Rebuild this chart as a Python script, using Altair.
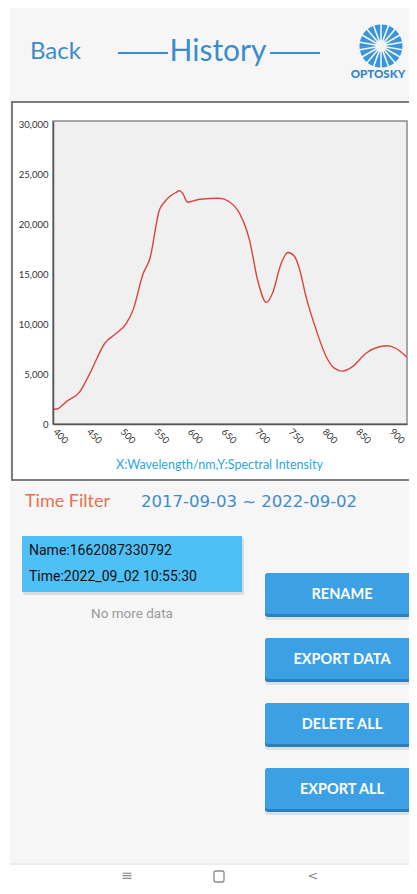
import altair as alt
import pandas as pd

# ---- data ----
wavelength = [398, 404, 418, 438, 453, 475, 492, 507, 517, 532, 542, 556, 564, 571,
              580, 586, 591, 598, 616, 645, 660, 675, 690, 702, 715, 724, 737, 747,
              757, 764, 774, 789, 804, 816, 828, 843, 863, 883, 895, 907, 924]
intensity = [1450, 1500, 2250, 3250, 5100, 8100, 9100, 10100, 11450, 15100, 16600, 21450,
             22300, 22800, 23200, 23400, 23100, 22250, 22550, 22650, 22300, 21150, 18450,
             14450, 12200, 13100, 16100, 17200, 16800, 15600, 12750, 9450, 6750, 5600,
             5300, 5750, 7100, 7750, 7850, 7600, 6700]
x_ticks = [400, 450, 500, 550, 600, 650, 700, 750, 800, 850, 900]
y_ticks = [0, 5000, 10000, 15000, 20000, 25000, 30000]
buttons = ["RENAME", "EXPORT DATA", "DELETE ALL", "EXPORT ALL"]
record_name = "Name:1662087330792"
record_time = "Time:2022_09_02 10:55:30"
date_range = "2017-09-03 ~ 2022-09-02"
petal_ids = list(range(18))

FONT = "Lato"
BLUE_TXT = "#3c8ccd"

one = pd.DataFrame({"k": [0]})


def rect(x, y, x2, y2, fill, stroke=None, sw=0.0, r=0, opacity=1.0):
    kw = dict(fill=fill, cornerRadius=r, opacity=opacity)
    if stroke:
        kw.update(stroke=stroke, strokeWidth=sw)
    return alt.Chart(one).mark_rect(**kw).encode(
        x=alt.value(x), x2=alt.value(x2), y=alt.value(y), y2=alt.value(y2))


def text(s, x, y, size, color, align="left", weight="normal", font=FONT):
    return alt.Chart(one).mark_text(
        text=s, align=align, baseline="middle", fontSize=size, color=color,
        fontWeight=weight, font=font).encode(x=alt.value(x), y=alt.value(y))


def hline(x, x2, y, color, w):
    return alt.Chart(one).mark_rule(color=color, strokeWidth=w).encode(
        x=alt.value(x), x2=alt.value(x2), y=alt.value(y))


layers = []
# page + gray app panel
layers.append(rect(-45, -113, 356, 765, "#ffffff"))
layers.append(rect(-43, -113, 356, 743, "#f6f6f6"))
layers.append(rect(-43, 742, 356, 744, "#ececec"))
# chart frame
layers.append(rect(-41, -19, 370, 359, "#ffffff", stroke="#555555", sw=1.5))
# plot background
layers.append(rect(0, 0, 354, 303, "#f0f0f0", stroke="#8c8c8c", sw=1.5))

# spectrum line with real axes
spec = pd.DataFrame({"wl": wavelength, "I": intensity})
line = alt.Chart(spec).mark_line(
    color="#d9453f", strokeWidth=1.4, interpolate="monotone", clip=True
).encode(
    x=alt.X("wl:Q",
            scale=alt.Scale(domain=[398, 924], nice=False, zero=False),
            axis=alt.Axis(values=x_ticks, labelAngle=45, labelAlign="left",
                          labelBaseline="middle", labelPadding=6, ticks=False,
                          grid=False, domainColor="#555555", domainWidth=1.5,
                          labelColor="#333333", labelFontSize=9.5, labelFont=FONT,
                          format=".0f",
                          title="X:Wavelength/nm,Y:Spectral Intensity",
                          titleColor="#29a8e0", titleFontSize=12.5,
                          titleFontWeight="normal", titleFont=FONT,
                          titleX=166, titleY=40, titleAlign="center",
                          titleBaseline="middle", zindex=1, labelFlush=False,
                          labelOverlap=False)),
    y=alt.Y("I:Q",
            scale=alt.Scale(domain=[0, 30400], nice=False),
            axis=alt.Axis(values=y_ticks, format=",.0f", ticks=False, grid=False,
                          domainColor="#555555", domainWidth=1.5,
                          labelColor="#333333", labelFontSize=9.5, labelFont=FONT,
                          labelPadding=5, title=None, zindex=1, labelFlush=False,
                          labelOverlap=False)),
)
layers.append(line)

# header
layers.append(text("Back", -23, -69, 24, BLUE_TXT))
layers.append(text("History", 165, -69, 30, BLUE_TXT, align="center"))
layers.append(hline(65, 115, -68, BLUE_TXT, 1.8))
layers.append(hline(217, 267, -68, BLUE_TXT, 1.8))
petals = pd.DataFrame({"p": petal_ids, "v": [1] * len(petal_ids)})
layers.append(
    alt.Chart(petals).mark_arc(color="#3a96dc", padAngle=0.07, radius=21.5, radius2=5.5)
    .encode(theta=alt.Theta("v:Q", stack=True), detail="p:N",
            x=alt.value(328), y=alt.value(-75)))
layers.append(text("OPTOSKY", 325, -46, 11.5, "#2f86cf", align="center", weight=900))

# time filter
layers.append(text("Time Filter", -28, 381, 18, "#e87050"))
layers.append(text(date_range, 88, 381, 16.5, BLUE_TXT, font="DejaVu Sans"))

# record card
layers.append(rect(-30, 417, 191, 474, "#d5d5d5", r=2, opacity=0.8))
layers.append(rect(-31, 415, 189, 471, "#4fc0f6"))
layers.append(text(record_name, -24, 430, 14, "#111111", font="Roboto"))
layers.append(text(record_time, -24, 456, 14, "#111111", font="Roboto"))
layers.append(text("No more data", 79, 493, 13.5, "#9a9a9a", align="center", font="Roboto"))

# buttons
tops = [452, 517, 582, 647]
for label, t in zip(buttons, tops):
    b = t + 44
    layers.append(rect(212, t + 2, 358, b + 3, "#d3d8dd", r=3, opacity=0.7))
    layers.append(rect(212, t, 358, b, "#2a7fbe", r=3))
    layers.append(rect(212, t, 358, b - 3, "#3ba0e4", r=3))
    layers.append(text(label, 289, t + 22, 14.5, "#ffffff", align="center", weight="bold"))

# nav bar icons
layers.append(text("≡", 74, 755, 14, "#8a8a8a", align="center", font="DejaVu Sans"))
layers.append(rect(161, 750, 171, 761, "transparent", stroke="#8a8a8a", sw=1.3, r=2))
layers.append(text("<", 260, 755, 13, "#8a8a8a", align="center", font="DejaVu Sans"))

chart = alt.layer(*layers).properties(
    width=354, height=303,
    padding={"left": 45, "top": 113, "right": 2, "bottom": 462},
    autosize=alt.AutoSizeParams(type="none"),
).configure_view(stroke="transparent")

chart.save("out.html", embed_options={"renderer": "svg", "actions": False})
